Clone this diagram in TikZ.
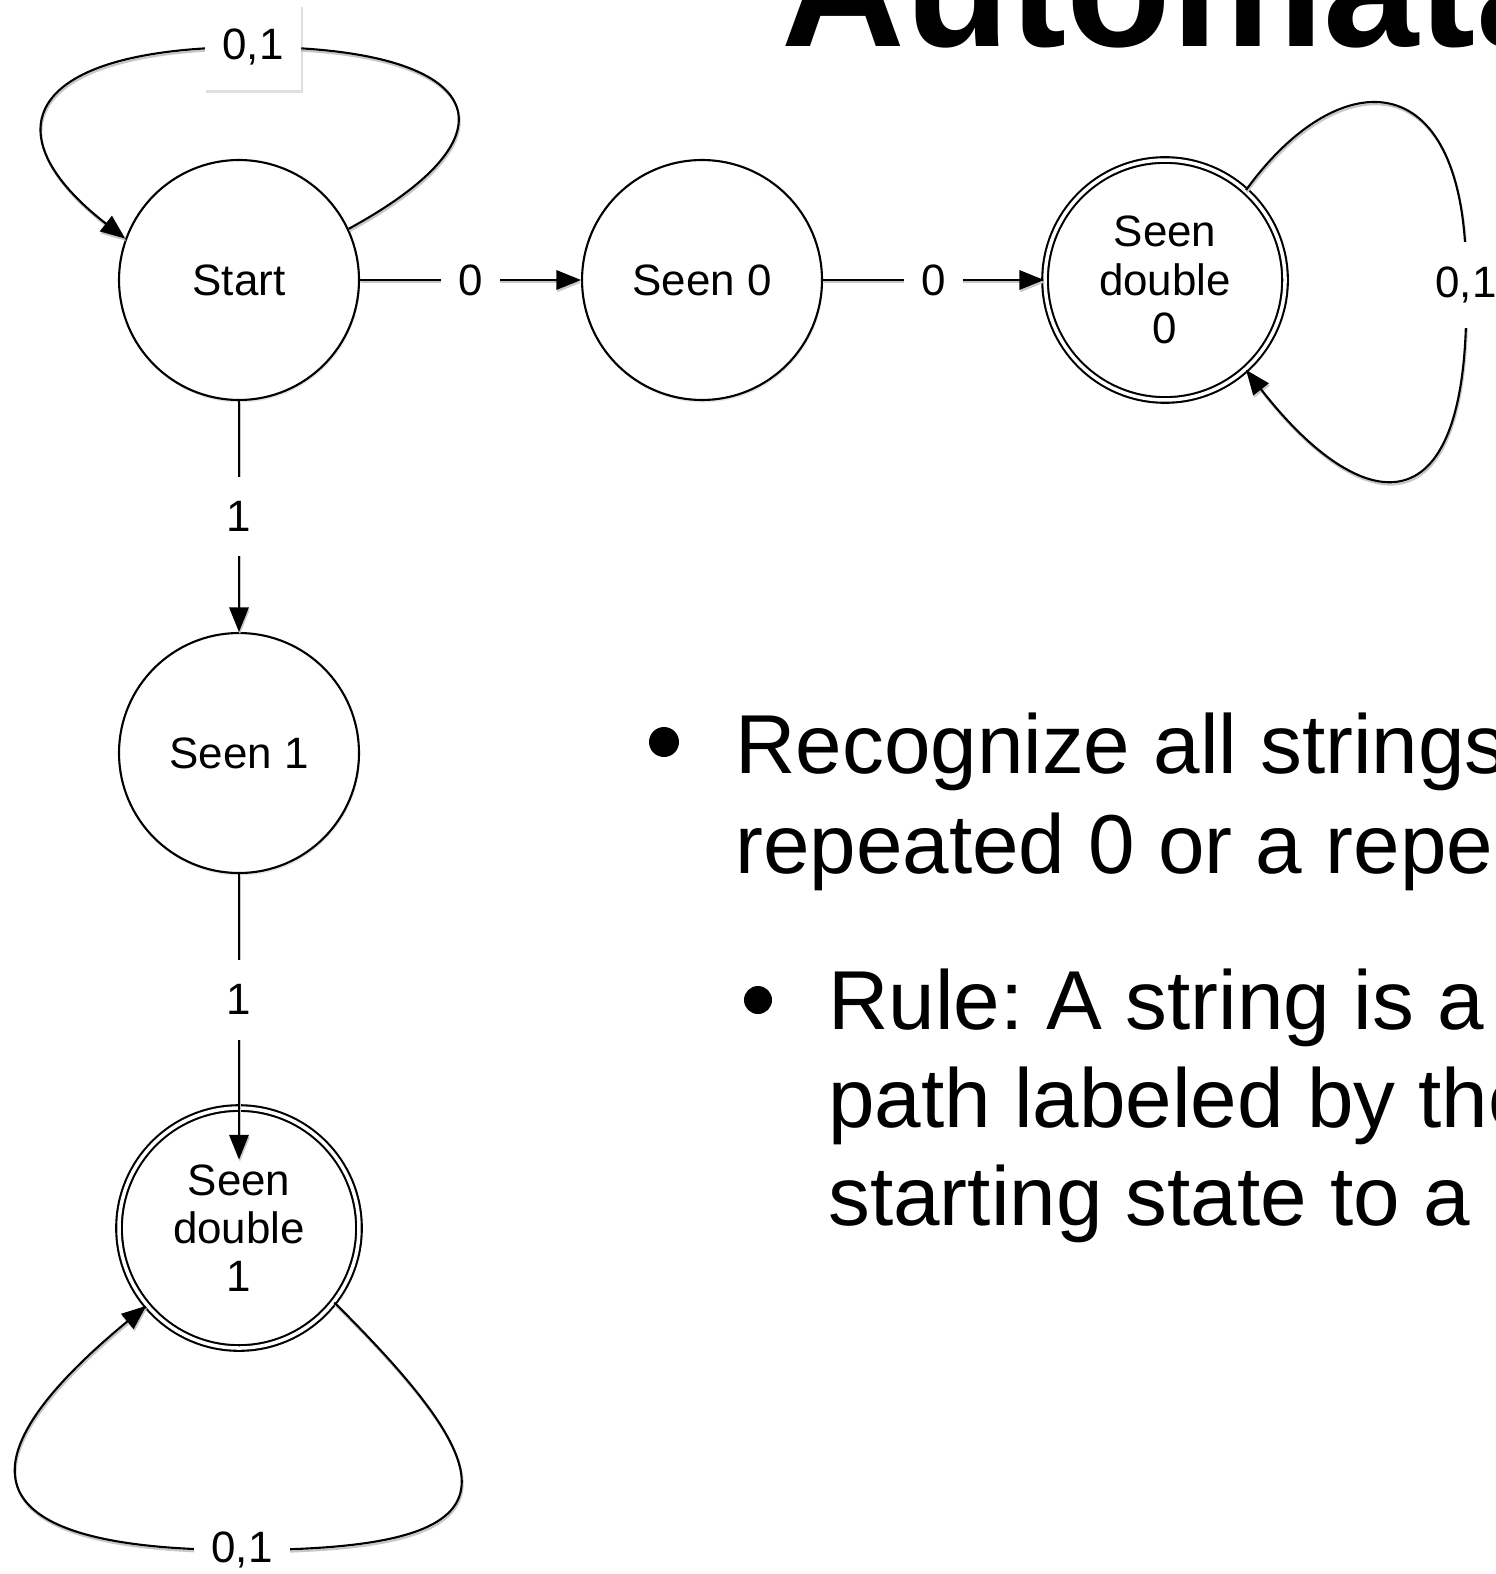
\documentclass[tikz,border=0pt]{standalone}
\usepackage{fontspec}
\setmainfont{Liberation Sans}
\usetikzlibrary{shapes,arrows,arrows.meta,positioning,shadows,calc}
\frenchspacing

\begin{document}
\begin{tikzpicture}[x=0.02cm, y=-0.02cm,
    every node/.style={font=\fontsize{25}{27.5}\selectfont},
    state/.style={circle, draw, line width=1.2pt, fill=white, minimum size=4.8cm, inner sep=0pt, align=center,
      drop shadow={opacity=0.2, shadow xshift=0.6pt, shadow yshift=-1.4pt}},
    accept/.style={state, double, double distance=2pt},
    conn/.style={line width=1.2pt, -{Triangle[length=14pt, width=11pt]},
      preaction={draw, black!22, line width=1.2pt, transform canvas={shift={(0.5pt,-1.3pt)}}}},
    lbl/.style={fill=white, inner xsep=10pt, inner ysep=14pt}]
				\path[use as bounding box] (0,0) rectangle (1495,1574);
				\clip (0,0) rectangle (1495,1574);
				\fill[white] (0,0) rectangle (1495,1574);
				
				% slide text
				\node[anchor=base west, inner sep=0pt, font=\bfseries\fontsize{97.5}{100}\selectfont] (title) at (781,47) {Automata};
				\fill (664,742) circle (0.3cm);
				\node[anchor=base west, inner sep=0pt, font=\fontsize{47.6}{56}\selectfont] (bullA1) at (735,773) {Recognize all strings};
				\node[anchor=base west, inner sep=0pt, font=\fontsize{47.6}{56}\selectfont] (bullA2) at (735,873) {repeated 0 or a repeated};
				\fill (758,1000) circle (0.28cm);
				\node[anchor=base west, inner sep=0pt, font=\fontsize{47.6}{56}\selectfont] (bullB1) at (828,1029) {Rule: A string is a};
				\node[anchor=base west, inner sep=0pt, font=\fontsize{47.6}{56}\selectfont] (bullB2) at (828,1127) {path labeled by the};
				\node[anchor=base west, inner sep=0pt, font=\fontsize{47.6}{56}\selectfont] (bullB3) at (828,1225) {starting state to a};
				
				% states
				\node[state] (start) at (239,280) {Start};
				\node[state, right=4.42cm of start] (seen0) {Seen 0};
				\node[accept, right=4.42cm of seen0] (dbl0) {Seen\\double\\0};
				\node[state, below=4.62cm of start] (seen1) {Seen 1};
				\node[accept, below=4.66cm of seen1] (dbl1) {Seen\\double\\1};
				
				% transitions
				\draw[conn] (start) -- node[lbl] (t1) {0} (seen0);
				\draw[conn] (seen0) -- node[lbl] (t2) {0} (dbl0);
				\draw[conn] (start) -- node[lbl] (t3) {1} (seen1);
				\draw[conn, shorten >=-1.05cm] (seen1) -- node[lbl, pos=0.54] (t4) {1} (dbl1);
				
				% self loops
				\draw[conn] (start.25) .. controls (530,130) and (480,47) .. (253,47)
					node[lbl, drop shadow={opacity=0.25, shadow xshift=0.8pt, shadow yshift=-1.6pt}] (loopS) {0,1}
					.. controls (23,47) and (-11,133) .. (start.160);
				\draw[conn] (dbl0.48) .. controls (1340,60) and (1470,60) .. (1466,285)
					node[lbl] (loopD0) {0,1}
					.. controls (1472,540) and (1360,517) .. (dbl0.-48);
				\draw[conn] (dbl1.-38) .. controls (515,1482) and (520,1550) .. (242,1550)
					node[lbl] (loopD1) {0,1}
					.. controls (-40,1550) and (-37,1457) .. (dbl1.-140);
			\end{tikzpicture}
\end{document}
